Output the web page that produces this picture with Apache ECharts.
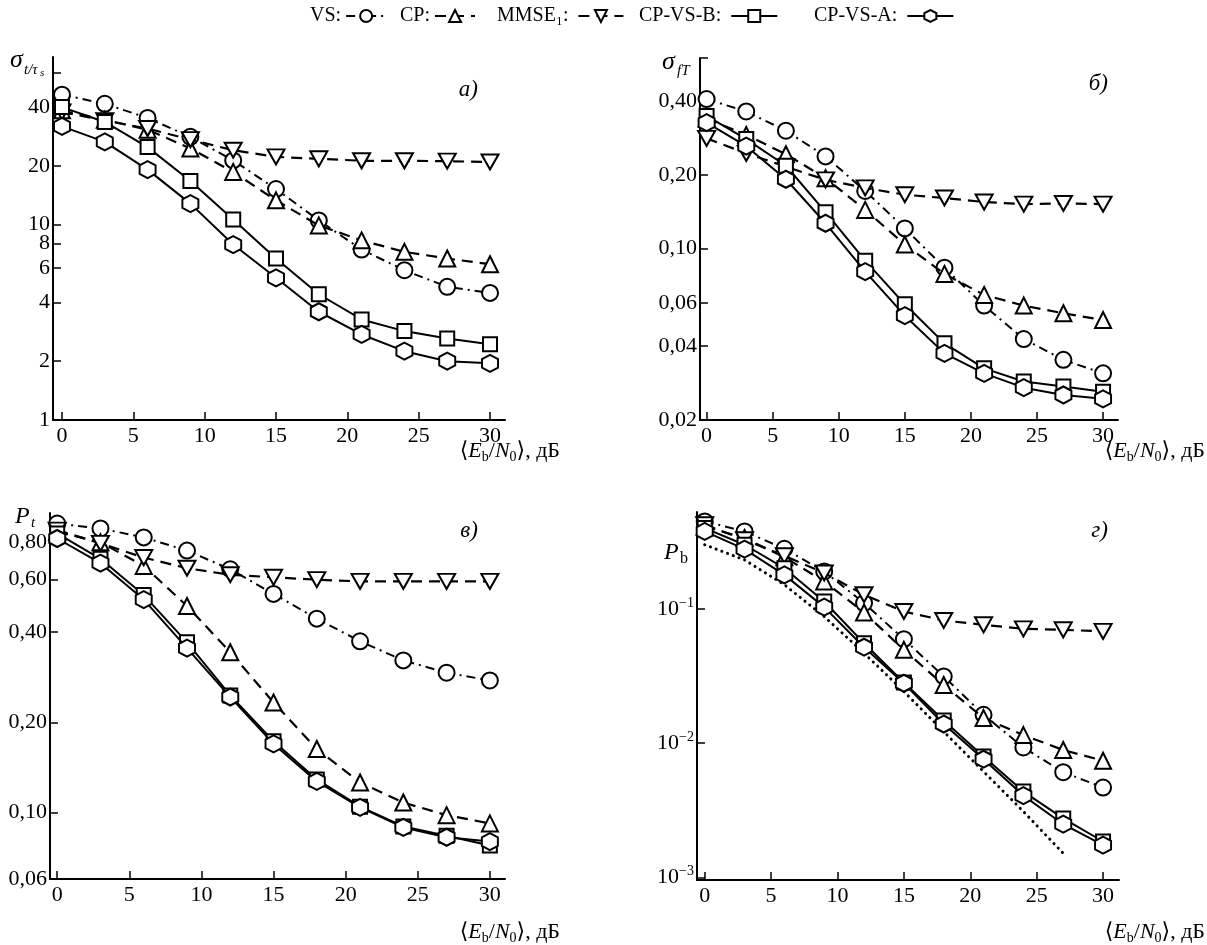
<!DOCTYPE html>
<html><head><meta charset="utf-8">
<script src="https://cdn.jsdelivr.net/npm/echarts@6/dist/echarts.min.js"></script>
<style>html,body{margin:0;padding:0;background:#fff}#c{width:1207px;height:945px}</style>
</head><body><div id="c"></div>
<script>
// ---------- data ----------
const X = [0, 3, 6, 9, 12, 15, 18, 21, 24, 27, 30];
const X_TICKS = [0, 5, 10, 15, 20, 25, 30];
const NAMES = ['VS:', 'CP:', 'MMSE\u2081:', 'CP-VS-B:', 'CP-VS-A:'];

// panel а) sigma t/tau_s
const A_VS   = [46.2, 41.5, 35.1, 28.1, 21.3, 15.2, 10.5, 7.45, 5.84, 4.80, 4.47];
const A_CP   = [38.4, 34.4, 30.6, 24.5, 18.6, 13.3, 9.9, 8.3, 7.25, 6.7, 6.27];
const A_MMSE = [37.7, 34.0, 31.0, 27.2, 24.0, 22.2, 21.7, 21.2, 21.2, 21.1, 20.9];
const A_B    = [39.9, 33.5, 24.9, 16.7, 10.6, 6.7, 4.4, 3.27, 2.85, 2.61, 2.44];
const A_A    = [31.8, 26.5, 19.1, 12.8, 7.9, 5.34, 3.58, 2.74, 2.25, 2.0, 1.95];
const A_TICKS  = [1, 2, 4, 6, 8, 10, 20, 40, 60];
const A_LABELS = ['1', '2', '4', '6', '8', '10', '20', '40', ''];

// panel б) sigma fT
const B_VS   = [0.408, 0.363, 0.303, 0.238, 0.172, 0.121, 0.0837, 0.0586, 0.0428, 0.0352, 0.031];
const B_CP   = [0.34, 0.291, 0.243, 0.194, 0.144, 0.104, 0.0789, 0.0648, 0.0586, 0.0545, 0.0512];
const B_MMSE = [0.282, 0.245, 0.216, 0.191, 0.177, 0.166, 0.161, 0.155, 0.152, 0.153, 0.152];
const B_B    = [0.348, 0.28, 0.218, 0.141, 0.0894, 0.0593, 0.0411, 0.0325, 0.0287, 0.0274, 0.0261];
const B_A    = [0.327, 0.262, 0.192, 0.127, 0.0806, 0.0533, 0.0374, 0.031, 0.0271, 0.0253, 0.0244];
const B_TICKS  = [0.02, 0.04, 0.06, 0.1, 0.2, 0.4, 0.6];
const B_LABELS = ['0,02', '0,04', '0,06', '0,10', '0,20', '0,40', ''];

// panel в) P_t
const C_VS   = [0.922, 0.888, 0.829, 0.749, 0.649, 0.537, 0.444, 0.373, 0.322, 0.293, 0.276];
const C_CP   = [0.866, 0.798, 0.666, 0.489, 0.343, 0.233, 0.163, 0.126, 0.108, 0.098, 0.092];
const C_MMSE = [0.877, 0.792, 0.71, 0.654, 0.622, 0.61, 0.599, 0.591, 0.591, 0.591, 0.591];
const C_B    = [0.855, 0.703, 0.532, 0.37, 0.246, 0.173, 0.129, 0.1046, 0.0899, 0.0837, 0.0776];
const C_A    = [0.822, 0.68, 0.514, 0.354, 0.243, 0.1695, 0.127, 0.104, 0.0892, 0.0827, 0.08];
const C_TICKS  = [0.06, 0.1, 0.2, 0.4, 0.6, 0.8];
const C_LABELS = ['0,06', '0,10', '0,20', '0,40', '0,60', '0,80'];

// panel г) P_b
const D_VS   = [0.451, 0.38, 0.282, 0.191, 0.111, 0.0597, 0.0315, 0.0163, 0.0093, 0.00608, 0.00467];
const D_CP   = [0.414, 0.339, 0.244, 0.161, 0.0944, 0.0497, 0.0272, 0.0154, 0.0115, 0.0089, 0.0074];
const D_MMSE = [0.426, 0.329, 0.25, 0.186, 0.128, 0.096, 0.0823, 0.0764, 0.0713, 0.0701, 0.0682];
const D_B    = [0.402, 0.302, 0.202, 0.114, 0.0557, 0.0284, 0.0148, 0.00796, 0.00436, 0.00275, 0.00185];
const D_A    = [0.38, 0.28, 0.18, 0.1035, 0.052, 0.028, 0.0139, 0.0076, 0.00407, 0.00249, 0.00174];
const D_BOUND_X = [0, 3, 6, 9, 12, 15, 18, 21, 24, 27];
const D_BOUND   = [0.302, 0.233, 0.152, 0.088, 0.047, 0.0243, 0.0122, 0.00615, 0.0031, 0.00151];
const D_TICKS  = [0.001, 0.01, 0.1];
const D_LABELS = ['{b|10}{p|\u22123}', '{b|10}{p|\u22122}', '{b|10}{p|\u22121}'];

// ---------- styling ----------
const SERIF = '"Liberation Serif", "DejaVu Serif", serif';
const HEX = 'path://M0,-1L0.866,-0.5L0.866,0.5L0,1L-0.866,0.5L-0.866,-0.5Z';
const TRI_DOWN = 'path://M-1,-0.8L1,-0.8L0,0.9Z';
const STYLES = [
  { symbol: 'circle', size: 16, dash: [9, 5, 2, 5], width: 2 },
  { symbol: 'triangle', size: 16, dash: [11, 7], width: 2.2 },
  { symbol: TRI_DOWN, size: [17, 15], dash: [11, 7], width: 2.2 },
  { symbol: 'rect', size: 14, dash: 'solid', width: 2 },
  { symbol: HEX, size: [16, 17], dash: 'solid', width: 2 }
];

const lg = Math.log10;
const toPts = (xs, ys) => xs.map((x, i) => [x, lg(ys[i])]);

function mkSeries(gi, sets) {
  return sets.map((ys, k) => ({
    type: 'line', name: NAMES[k], xAxisIndex: gi, yAxisIndex: gi,
    data: toPts(X, ys), symbol: STYLES[k].symbol, symbolSize: STYLES[k].size,
    showAllSymbol: true, silent: true, z: 2 + k,
    lineStyle: { color: '#000', width: STYLES[k].width, type: STYLES[k].dash },
    itemStyle: { color: '#fff', borderColor: '#000', borderWidth: 2 }
  }));
}

function mkX(gi, min, max) {
  return {
    type: 'value', gridIndex: gi, min: min, max: max,
    axisLine: { onZero: false, lineStyle: { color: '#000', width: 2 } },
    axisTick: { inside: true, length: 8, customValues: X_TICKS, lineStyle: { color: '#000', width: 1.5 } },
    axisLabel: { customValues: X_TICKS, color: '#000', fontFamily: SERIF, fontSize: 22, margin: 5 },
    splitLine: { show: false }
  };
}

function mkY(gi, min, max, ticks, labels, rich) {
  const lt = ticks.map(lg);
  const labelled = lt.filter((v, i) => labels[i] !== '');
  return {
    type: 'value', gridIndex: gi, min: min, max: max,
    axisLine: { onZero: false, lineStyle: { color: '#000', width: 2 } },
    axisTick: { inside: true, length: 8, customValues: lt, lineStyle: { color: '#000', width: 1.5 } },
    axisLabel: {
      customValues: labelled, color: '#000', fontFamily: SERIF, fontSize: 22, margin: 3,
      formatter: function (v) {
        for (let i = 0; i < lt.length; i++) if (Math.abs(lt[i] - v) < 1e-6) return labels[i];
        return '';
      },
      rich: rich
    },
    splitLine: { show: false }
  };
}

const GRIDS = [
  { left: 53, top: 57, width: 452, height: 363 },
  { left: 700, top: 58, width: 418, height: 362 },
  { left: 50, top: 513, width: 455, height: 366 },
  { left: 697, top: 512, width: 422, height: 368 }
];

const supRich = {
  b: { fontFamily: SERIF, fontSize: 22, color: '#000', lineHeight: 26 },
  p: { fontFamily: SERIF, fontSize: 14, color: '#000', verticalAlign: 'top', lineHeight: 14 }
};

const series = [].concat(
  mkSeries(0, [A_VS, A_CP, A_MMSE, A_B, A_A]),
  mkSeries(1, [B_VS, B_CP, B_MMSE, B_B, B_A]),
  mkSeries(2, [C_VS, C_CP, C_MMSE, C_B, C_A]),
  mkSeries(3, [D_VS, D_CP, D_MMSE, D_B, D_A]),
  [{
    type: 'line', name: 'bound', xAxisIndex: 3, yAxisIndex: 3, silent: true, z: 1,
    data: toPts(D_BOUND_X, D_BOUND), symbol: 'none',
    lineStyle: { color: '#000', width: 3, type: [0.1, 6], cap: 'round' }
  }]
);

// legend (text first, icon after)
const LEG_POS = [310, 400, 497, 639, 814];
const LEG_W = [40, 40, 45, 46, 46];
const LEG_PAD = ['', '', ' ', ' ', ' '];
const legends = NAMES.map((n, i) => ({
  data: [n], left: LEG_POS[i], top: 6, padding: 0, align: 'right', orient: 'horizontal',
  itemWidth: LEG_W[i], itemHeight: 15, selectedMode: false,
  formatter: name => name + LEG_PAD[i],
  textStyle: { color: '#000', fontFamily: SERIF, fontSize: 20 }
}));

const xNameRich = {
  n: { fontFamily: SERIF, fontSize: 22, color: '#000', lineHeight: 26 },
  i: { fontFamily: SERIF, fontSize: 22, fontStyle: 'italic', color: '#000', lineHeight: 26 },
  s: { fontFamily: SERIF, fontSize: 14, color: '#000', verticalAlign: 'bottom', lineHeight: 15 }
};
const xNameText = '{n|\u27E8}{i|E}{s|b}{n|/}{i|N}{s|0}{n|\u27E9, дБ}';
function txt(x, y, text, opts) {
  return Object.assign({ type: 'text', x: x, y: y, silent: true,
    style: Object.assign({ text: text, fill: '#000', font: '20px ' + SERIF }, opts || {}) });
}

const graphics = [
  // x-axis names
  txt(560, 451, xNameText, { rich: xNameRich, align: 'right', verticalAlign: 'middle' }),
  txt(1205, 451, xNameText, { rich: xNameRich, align: 'right', verticalAlign: 'middle' }),
  txt(560, 932, xNameText, { rich: xNameRich, align: 'right', verticalAlign: 'middle' }),
  txt(1205, 932, xNameText, { rich: xNameRich, align: 'right', verticalAlign: 'middle' }),
  // y-axis names
  txt(10, 60, 'σ', { font: 'italic 26px ' + SERIF, verticalAlign: 'middle' }),
  txt(24, 70, 't/τ', { font: 'italic 15px ' + SERIF, verticalAlign: 'middle' }),
  txt(40, 73, 's', { font: 'italic 11px ' + SERIF, verticalAlign: 'middle' }),
  txt(662, 62, 'σ', { font: 'italic 26px ' + SERIF, verticalAlign: 'middle' }),
  txt(677, 71, 'fT', { font: 'italic 15px ' + SERIF, verticalAlign: 'middle' }),
  txt(15, 517, 'P', { font: 'italic 24px ' + SERIF, verticalAlign: 'middle' }),
  txt(31, 523, 't', { font: 'italic 15px ' + SERIF, verticalAlign: 'middle' }),
  txt(664, 553, 'P', { font: 'italic 24px ' + SERIF, verticalAlign: 'middle' }),
  txt(680, 559, 'b', { font: '16px ' + SERIF, verticalAlign: 'middle' }),
  // panel letters
  txt(478, 90, 'а)', { font: 'italic 23px ' + SERIF, align: 'right', verticalAlign: 'middle' }),
  txt(1108, 84, 'б)', { font: 'italic 23px ' + SERIF, align: 'right', verticalAlign: 'middle' }),
  txt(478, 531, 'в)', { font: 'italic 23px ' + SERIF, align: 'right', verticalAlign: 'middle' }),
  txt(1108, 531, 'г)', { font: 'italic 23px ' + SERIF, align: 'right', verticalAlign: 'middle' })
];

const chart = echarts.init(document.getElementById('c'), null, { renderer: 'canvas' });
chart.setOption({
  animation: false,
  backgroundColor: '#fff',
  grid: GRIDS.map(g => Object.assign({ containLabel: false, outerBoundsMode: 'none' }, g)),
  xAxis: [mkX(0, -0.63, 31.05), mkX(1, -0.5, 31.13), mkX(2, -0.5, 31.05), mkX(3, -0.58, 31.2)],
  yAxis: [
    mkY(0, 0, lg(72), A_TICKS, A_LABELS),
    mkY(1, lg(0.02), lg(0.6), B_TICKS, B_LABELS),
    mkY(2, lg(0.06), 0, C_TICKS, C_LABELS),
    mkY(3, -3.02, lg(0.53), D_TICKS, D_LABELS, supRich)
  ],
  legend: legends,
  series: series,
  graphic: graphics
});
</script></body></html>
